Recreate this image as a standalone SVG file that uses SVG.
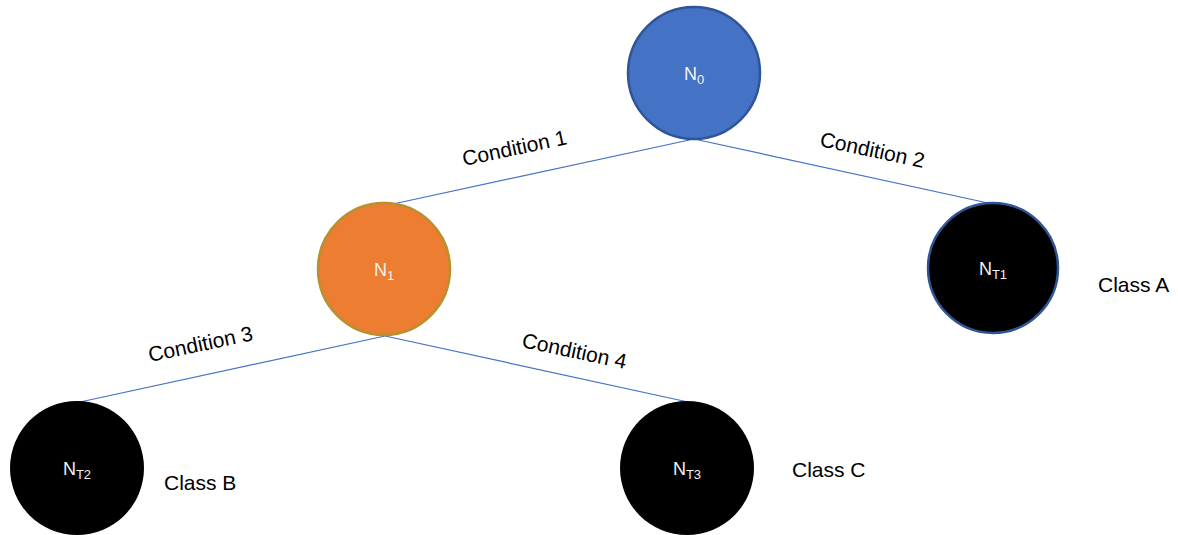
<svg xmlns="http://www.w3.org/2000/svg" width="1178" height="535" viewBox="0 0 1178 535">
<style>
.lbl{font-family:"Liberation Sans",Arial,sans-serif;font-size:21px;fill:#000}
.nt{font-family:"Liberation Sans",Arial,sans-serif;font-size:18px;fill:#f2f2f2}
.sub{font-size:13px}
.edge{stroke:#4472C4;stroke-width:1.2;fill:none}
</style>
<rect width="1178" height="535" fill="#fff"/>
<g id="connectors">
<line class="edge" x1="694" y1="139" x2="393" y2="204"/>
<line class="edge" x1="694" y1="139" x2="988" y2="203"/>
<line class="edge" x1="385" y1="336" x2="80" y2="402"/>
<line class="edge" x1="385" y1="336" x2="688" y2="402"/>
<text class="lbl" text-anchor="middle" transform="translate(516,155) rotate(-12)">Condition 1</text>
<text class="lbl" text-anchor="middle" transform="translate(871,157) rotate(12)">Condition 2</text>
<text class="lbl" text-anchor="middle" transform="translate(202,351) rotate(-12)">Condition 3</text>
<text class="lbl" text-anchor="middle" transform="translate(573,358) rotate(12)">Condition 4</text>
</g>
<g id="N0">
<circle cx="694" cy="73" r="66" fill="#4472C4" stroke="#2F5597" stroke-width="2.5"/>
<text class="nt" x="694" y="80" text-anchor="middle">N<tspan class="sub" dy="4">0</tspan></text>
</g>
<g id="N1">
<circle cx="384" cy="269" r="66" fill="#ED7D31" stroke="#B8902E" stroke-width="2.5"/>
<text class="nt" x="384" y="276" text-anchor="middle">N<tspan class="sub" dy="4">1</tspan></text>
</g>
<g id="NT1">
<circle cx="993" cy="268" r="65" fill="#000" stroke="#2F5597" stroke-width="2.5"/>
<text class="nt" x="993" y="275" text-anchor="middle">N<tspan class="sub" dy="4">T1</tspan></text>
<text class="lbl" x="1098" y="292">Class A</text>
</g>
<g id="NT2">
<circle cx="77" cy="468" r="67" fill="#000"/>
<text class="nt" x="77" y="475" text-anchor="middle">N<tspan class="sub" dy="4">T2</tspan></text>
<text class="lbl" x="164" y="490">Class B</text>
</g>
<g id="NT3">
<circle cx="687" cy="468" r="67" fill="#000"/>
<text class="nt" x="687" y="475" text-anchor="middle">N<tspan class="sub" dy="4">T3</tspan></text>
<text class="lbl" x="792" y="477">Class C</text>
</g>
</svg>
